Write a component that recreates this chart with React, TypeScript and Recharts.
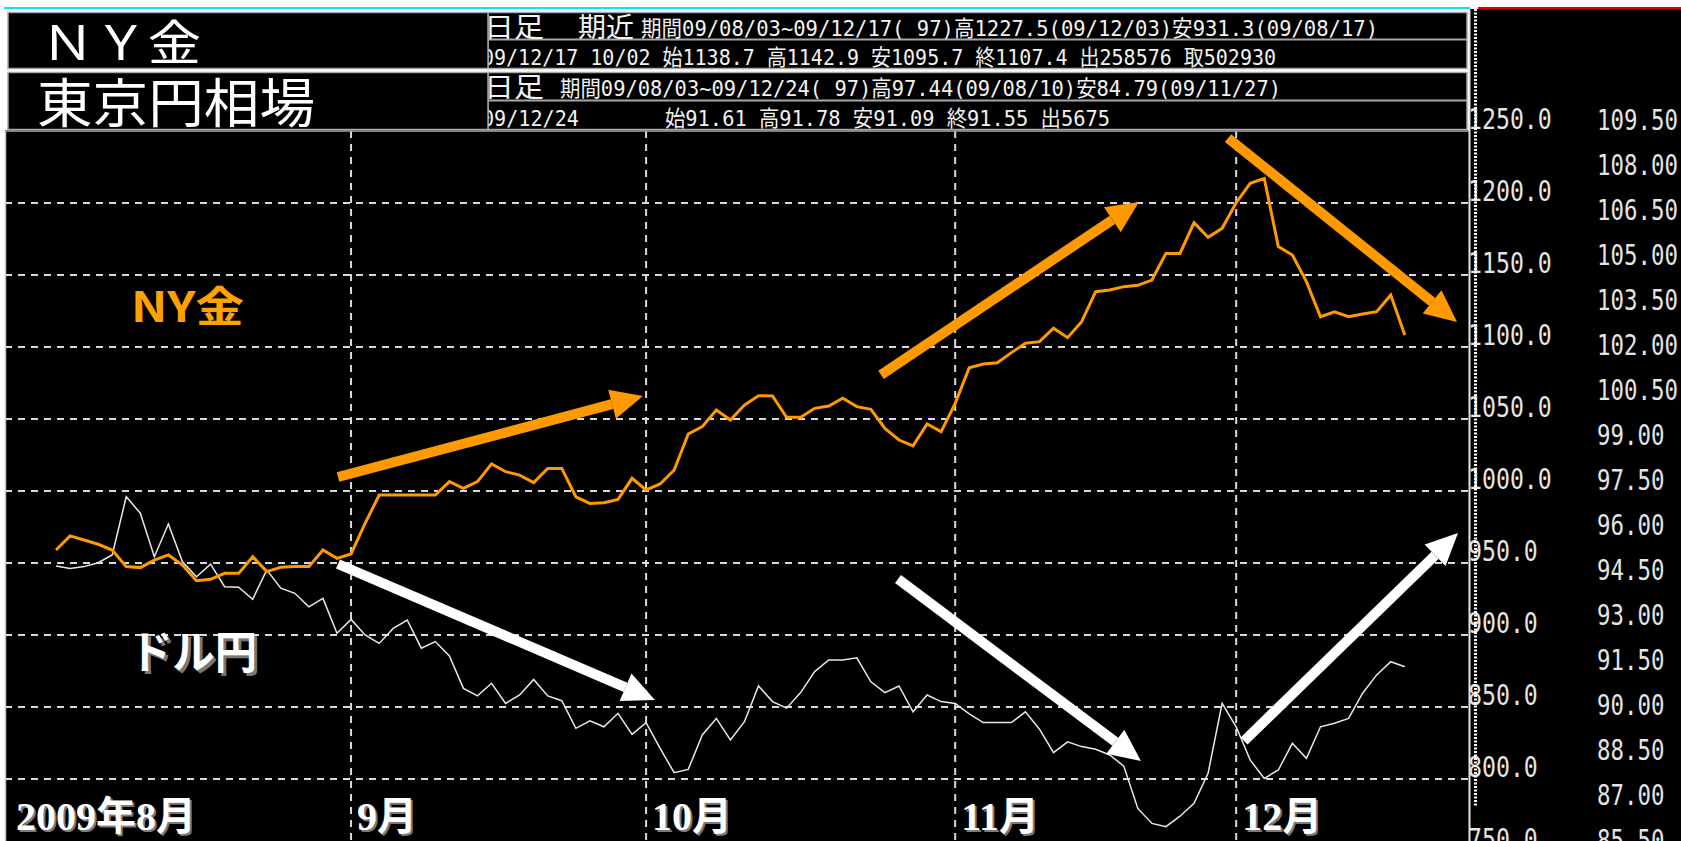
import React from 'react';
import { ComposedChart, Line, XAxis, YAxis, CartesianGrid, ReferenceLine } from 'recharts';

// NY gold daily close, 2009/08/03 - 2009/12/17 (97 sessions)
const goldClose = [
  959.0, 968.8, 966.0, 963.0, 959.0, 947.5, 946.8, 952.0, 955.6, 948.6,
  937.7, 938.7, 942.8, 942.8, 954.4, 944.0, 947.0, 947.5, 947.5, 959.0,
  953.2, 956.3, 977.5, 997.2, 997.2, 997.2, 997.2, 997.2, 1006.5, 1001.8,
  1006.5, 1018.8, 1013.4, 1011.0, 1005.8, 1015.7, 1015.7, 996.0, 991.4, 991.9,
  994.2, 1008.8, 1000.7, 1004.9, 1014.6, 1039.6, 1044.7, 1056.3, 1049.3, 1059.7,
  1066.2, 1066.0, 1051.2, 1051.2, 1057.4, 1059.0, 1064.4, 1058.6, 1056.7, 1043.5,
  1035.4, 1031.3, 1046.5, 1041.2, 1060.9, 1085.6, 1088.2, 1089.1, 1096.1, 1102.6,
  1103.7, 1113.0, 1106.5, 1117.6, 1138.4, 1139.6, 1141.9, 1142.8, 1146.5, 1165.0,
  1165.0, 1186.3, 1176.2, 1182.4, 1200.2, 1213.7, 1217.1, 1169.7, 1163.9, 1145.4,
  1121.0, 1124.5, 1121.0, 1122.9, 1124.5, 1136.1, 1108.3,
];

// Tokyo USD/JPY close (97 sessions)
const usdJpy = [
  95.0, 94.92, 94.98, 95.11, 95.37, 97.31, 96.76, 95.31, 96.4, 95.14,
  94.64, 95.06, 94.31, 94.29, 93.89, 94.87, 94.26, 94.09, 93.64, 93.92,
  92.76, 93.22, 92.7, 92.42, 92.92, 93.2, 92.26, 92.48, 92.0, 90.92,
  90.67, 91.09, 90.42, 90.7, 91.22, 90.67, 90.51, 89.59, 89.84, 89.64,
  90.09, 89.39, 89.78, 88.92, 88.11, 88.22, 89.37, 89.92, 89.2, 89.81,
  91.0, 90.48, 90.26, 90.78, 91.48, 91.87, 91.87, 91.94, 91.14, 90.78,
  91.0, 90.14, 90.7, 90.48, 90.42, 90.07, 89.78, 89.78, 89.78, 90.14,
  89.56, 88.78, 89.14, 88.98, 88.89, 88.7, 88.33, 86.92, 86.42, 86.31,
  86.66, 87.09, 88.09, 90.42, 89.64, 88.53, 87.92, 88.2, 89.09, 88.59,
  89.64, 89.76, 89.92, 90.76, 91.37, 91.81, 91.64,
];

const monthStartIdx = [0, 21, 42, 64, 84];
const monthLabels = ['2009年8月', '9月', '10月', '11月', '12月'];
const goldGridLevels = [800, 850, 900, 950, 1000, 1050, 1100, 1150, 1200];
const goldTicks = [750, 800, 850, 900, 950, 1000, 1050, 1100, 1150, 1200, 1250];
const yenTicks = [85.5, 87, 88.5, 90, 91.5, 93, 94.5, 96, 97.5, 99, 100.5, 102, 103.5, 105, 106.5, 108, 109.5];

const goldTitle = 'ＮＹ金';
const yenTitle = '東京円相場';
const goldInfo1 = '期間09/08/03~09/12/17( 97)高1227.5(09/12/03)安931.3(09/08/17)';
const goldInfo2 = '09/12/17 10/02 始1138.7 高1142.9 安1095.7 終1107.4 出258576 取502930';
const yenInfo1 = '期間09/08/03~09/12/24( 97)高97.44(09/08/10)安84.79(09/11/27)';
const yenInfoDate = '09/12/24';
const yenInfo2 = '始91.61 高91.78 安91.09 終91.55 出5675';

// trend arrows, in (session index, gold price) coordinates
const trendArrows = [
  { from: [20.07, 1009.7], to: [41.78, 1066.0], color: '#ff9900' },
  { from: [58.72, 1080.6], to: [77.08, 1200.7], color: '#ff9900' },
  { from: [83.42, 1245.1], to: [99.72, 1117.4], color: '#ff9900' },
  { from: [20.07, 949.3], to: [42.63, 854.9], color: '#ffffff' },
  { from: [59.93, 938.9], to: [77.22, 812.5], color: '#ffffff' },
  { from: [84.56, 826.4], to: [99.79, 970.8], color: '#ffffff' },
];

const rows = goldClose.map((g, i) => ({ i, gold: g, yen: usdJpy[i] }));

const pixelFont = "'DejaVu Sans Mono', 'Noto Sans CJK JP', monospace";

function Arrow(props: any) {
  const { x1, y1, x2, y2, color } = props;
  const dx = x2 - x1;
  const dy = y2 - y1;
  const len = Math.hypot(dx, dy);
  const ux = dx / len;
  const uy = dy / len;
  const px = -uy;
  const py = ux;
  const head = 32;
  const half = 15;
  const shaft = 5;
  const bx = x2 - ux * head;
  const by = y2 - uy * head;
  const body = [
    [x1 + px * shaft, y1 + py * shaft],
    [bx + px * shaft, by + py * shaft],
    [bx - px * shaft, by - py * shaft],
    [x1 - px * shaft, y1 - py * shaft],
  ];
  const tip = [
    [bx + px * half, by + py * half],
    [x2, y2],
    [bx - px * half, by - py * half],
  ];
  return (
    <g>
      <polygon points={body.map((p) => p.join(',')).join(' ')} fill={color} />
      <polygon points={tip.map((p) => p.join(',')).join(' ')} fill={color} />
    </g>
  );
}

function MonthTick(props: any) {
  const { x, y, payload } = props;
  const k = monthStartIdx.indexOf(payload.value);
  const label = monthLabels[k];
  const tx = k === 0 ? x - 40 : x + 6;
  const ty = y - 21;
  const font = "'Liberation Serif', 'Noto Sans CJK JP', serif";
  return (
    <g>
      <text x={tx + 2} y={ty + 2} fill="#7a7a7a" fontFamily={font} fontWeight={700} fontSize={40}>
        {label}
      </text>
      <text x={tx} y={ty} fill="#ffffff" fontFamily={font} fontWeight={700} fontSize={40}>
        {label}
      </text>
    </g>
  );
}

const valueTick = (digits: number, dx: number, dy: number, size: number) => (props: any) => {
  const { x, y, payload } = props;
  return (
    <text
      transform={`translate(${x + dx},${y + dy}) scale(1,1.25)`}
      fontFamily={pixelFont}
      fontSize={size}
      fill="#e4e4e4"
      dominantBaseline="central"
    >
      {Number(payload.value).toFixed(digits)}
    </text>
  );
};

function InfoText({ x, y, w, size, children }: any) {
  return (
    <text
      x={x}
      y={y}
      fontSize={size}
      textLength={w}
      lengthAdjust="spacingAndGlyphs"
      fill="#f2f2f2"
      fontFamily={pixelFont}
    >
      {children}
    </text>
  );
}

export default function App() {
  return (
    <div style={{ position: 'absolute', left: 0, top: 0, width: 1681, height: 841, overflow: 'hidden', background: '#fff' }}>
      <svg width={1681} height={841} style={{ position: 'absolute', left: 0, top: 0 }}>
        <rect x={0} y={0} width={1681} height={841} fill="#ffffff" />
        <rect x={1470} y={9} width={211} height={832} fill="#000" />
        <rect x={5} y={130} width={1465} height={711} fill="#000" />

        {/* info rows */}
        <rect x={488} y={12.5} width={979} height={56} fill="#000" stroke="#a8a8a8" strokeWidth={1.5} />
        <line x1={488} y1={39.5} x2={1467} y2={39.5} stroke="#a8a8a8" strokeWidth={2} />
        <rect x={488} y={72.5} width={979} height={57} fill="#000" stroke="#a8a8a8" strokeWidth={1.5} />
        <line x1={488} y1={100.5} x2={1467} y2={100.5} stroke="#a8a8a8" strokeWidth={2} />

        <InfoText x={484} y={37} w={60} size={27}>日足</InfoText>
        <InfoText x={578} y={37} w={56} size={27}>期近</InfoText>
        <InfoText x={641} y={36} w={737} size={22}>{goldInfo1}</InfoText>
        <InfoText x={482} y={65} w={794} size={22}>{goldInfo2}</InfoText>
        <InfoText x={484} y={97} w={60} size={27}>日足</InfoText>
        <InfoText x={560} y={96} w={721} size={22}>{yenInfo1}</InfoText>
        <InfoText x={482} y={126} w={97} size={22}>{yenInfoDate}</InfoText>
        <InfoText x={665} y={126} w={445} size={22}>{yenInfo2}</InfoText>

        {/* title boxes */}
        <rect x={8} y={12.5} width={480} height={56} fill="#000" stroke="#a8a8a8" strokeWidth={1.5} />
        <rect x={8} y={72.5} width={480} height={57} fill="#000" stroke="#a8a8a8" strokeWidth={1.5} />
        <text x={41} y={60} fill="#fff" fontSize={48} fontFamily="'Noto Sans CJK JP', sans-serif" textLength={160} lengthAdjust="spacingAndGlyphs">
          {goldTitle}
        </text>
        <text x={37} y={123} fill="#fff" fontSize={53} fontFamily="'Noto Sans CJK JP', sans-serif" textLength={278} lengthAdjust="spacingAndGlyphs">
          {yenTitle}
        </text>
      </svg>

      <div style={{ position: 'absolute', left: 0, top: 0 }}>
        <ComposedChart width={1681} height={860} data={rows} margin={{ top: 131, right: 0, bottom: 0, left: 5 }}>
          <CartesianGrid
            yAxisId="gold"
            horizontalValues={goldGridLevels}
            verticalValues={monthStartIdx.slice(1)}
            stroke="#dadada"
            strokeWidth={2}
            strokeDasharray="7 6"
          />
          <XAxis
            type="number"
            dataKey="i"
            domain={[-3.63, 100.5]}
            allowDataOverflow
            ticks={monthStartIdx}
            interval={0}
            tick={<MonthTick />}
            axisLine={false}
            tickLine={false}
            tickSize={0}
            tickMargin={0}
            height={9}
          />
          <YAxis
            yAxisId="gold"
            orientation="right"
            width={116}
            domain={[750, 1250]}
            allowDataOverflow
            ticks={goldTicks}
            interval={0}
            tick={valueTick(1, 0, -12, 23.2)}
            axisLine={false}
            tickLine={false}
            tickSize={0}
            tickMargin={0}
          />
          <YAxis
            yAxisId="yen"
            orientation="right"
            width={97}
            domain={[85.5, 109.5]}
            allowDataOverflow
            ticks={yenTicks}
            interval={0}
            tick={valueTick(2, 13, -11, 22.4)}
            axisLine={false}
            tickLine={false}
            tickSize={0}
            tickMargin={0}
          />
          <Line yAxisId="yen" type="linear" dataKey="yen" stroke="#e8e8e8" strokeWidth={1.5} dot={false} isAnimationActive={false} />
          <Line yAxisId="gold" type="linear" dataKey="gold" stroke="#ff9900" strokeWidth={3} dot={false} isAnimationActive={false} />
          {trendArrows.map((a, k) => (
            <ReferenceLine
              key={k}
              yAxisId="gold"
              ifOverflow="visible"
              segment={[{ x: a.from[0], y: a.from[1] }, { x: a.to[0], y: a.to[1] }]}
              shape={(p: any) => <Arrow {...p} color={a.color} />}
            />
          ))}
        </ComposedChart>
      </div>

      <svg width={1681} height={841} style={{ position: 'absolute', left: 0, top: 0, pointerEvents: 'none' }}>
        <rect x={4} y={7} width={1466} height={2} fill="#00e8f0" />
        <rect x={1478} y={7} width={203} height={2.5} fill="#e00000" />
        <line x1={5} y1={131} x2={1469} y2={131} stroke="#a8a8a8" strokeWidth={1.5} />
        <line x1={5.5} y1={131} x2={5.5} y2={841} stroke="#c8c8c8" strokeWidth={1.5} />
        <line x1={1469.5} y1={10} x2={1469.5} y2={841} stroke="#e6e6e6" strokeWidth={2} />
        <line x1={1475.5} y1={9} x2={1475.5} y2={807} stroke="#ffffff" strokeWidth={3} strokeDasharray="2 1.5" />

        <text x={131} y={322} fill="#ffa200" fontSize={42} fontWeight={700} fontFamily="'Noto Sans CJK JP', sans-serif" textLength={113} lengthAdjust="spacingAndGlyphs">
          NY金
        </text>
        <text x={133} y={672} fill="#777" fontSize={45} fontWeight={700} fontFamily="'Noto Sans CJK JP', sans-serif" textLength={127} lengthAdjust="spacingAndGlyphs">
          ドル円
        </text>
        <text x={130} y={669} fill="#fff" fontSize={45} fontWeight={700} fontFamily="'Noto Sans CJK JP', sans-serif" textLength={127} lengthAdjust="spacingAndGlyphs">
          ドル円
        </text>
      </svg>
    </div>
  );
}
